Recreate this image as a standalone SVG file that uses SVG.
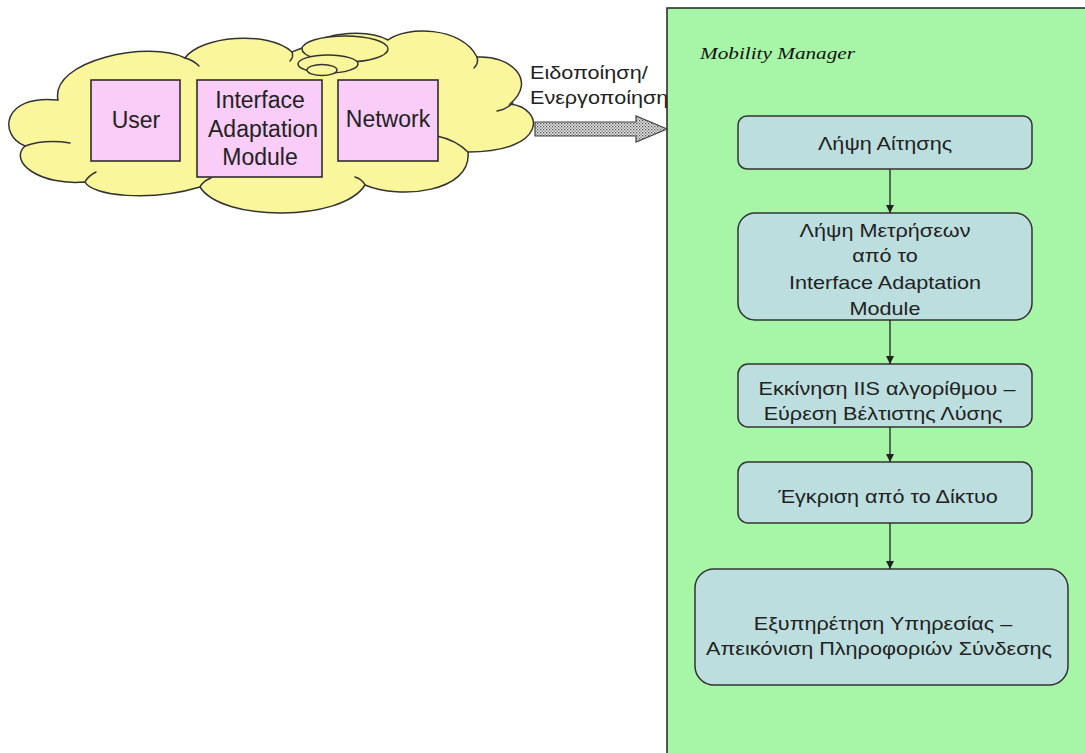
<svg xmlns="http://www.w3.org/2000/svg" width="1085" height="753" viewBox="0 0 1085 753">
  <defs>
    <style>
      .cloud { fill: #FAF69C; stroke: #333; stroke-width: 1.5; }
      .tick { fill: none; stroke: #333; stroke-width: 1.5; stroke-linecap: round; }
      .ent { fill: #F9CDF7; stroke: #222; stroke-width: 1.5; }
      .ent-text { font-family: "Liberation Sans", Arial, sans-serif; font-size: 23px; fill: #222; text-anchor: middle; }
      .panel { fill: #A7F5A7; stroke: #222; stroke-width: 1.5; }
      .step { fill: #BCDEDF; stroke: #333; stroke-width: 1.5; }
      .step-text { font-family: "Liberation Sans", Arial, sans-serif; font-size: 18px; fill: #222; text-anchor: middle; }
      .label { font-family: "Liberation Sans", Arial, sans-serif; font-size: 18px; fill: #222; }
      .title { font-family: "Liberation Serif", "Times New Roman", serif; font-style: italic; font-size: 17px; fill: #111; }
      .flow { stroke: #222; stroke-width: 1.3; fill: none; marker-end: url(#head); }
    </style>
    <marker id="head" viewBox="0 0 10 10" refX="10" refY="5" markerWidth="8" markerHeight="8" markerUnits="userSpaceOnUse" orient="auto">
      <path d="M0,0 L10,5 L0,10 Z" fill="#222"/>
    </marker>
    <pattern id="dots" width="3" height="3" patternUnits="userSpaceOnUse">
      <rect width="3" height="3" fill="#E4E4E4"/>
      <rect x="0" y="0" width="1.3" height="1.3" fill="#555"/>
      <rect x="1.5" y="1.5" width="1.3" height="1.3" fill="#777"/>
    </pattern>
  </defs>

  <rect width="1085" height="753" fill="#FFFFFF"/>

  <!-- Cloud holding the three entities -->
  <g id="cloud">
    <path class="cloud" d="M58,100 C50,60 150,40 185,58 C200,36 268,30 292,52 L302,48 C330,30 370,30 388,40 C405,26 462,26 477,57 C510,55 538,80 510,104 C545,108 548,152 468,152 C472,192 400,200 365,185 C342,222 222,222 200,187 C150,202 92,196 85,182 C40,186 8,162 25,146 C-2,135 2,94 58,100 Z"/>
    <path class="tick" d="M25,146 Q45,139 70,143"/>
    <path class="tick" d="M85,182 Q88,176 96,172"/>
    <path class="tick" d="M185,58 Q193,60 199,66"/>
    <path class="tick" d="M292,52 Q294,57 290,61"/>
    <path class="tick" d="M477,57 Q479,63 474,68"/>
    <path class="tick" d="M513,103 Q505,110 497,111"/>
    <path class="tick" d="M437,136 Q456,140 468,152"/>
    <path class="tick" d="M365,185 Q362,179 355,177"/>
    <path class="tick" d="M200,187 Q203,181 211,178"/>
    <ellipse class="cloud" cx="345" cy="49" rx="43" ry="13"/>
    <ellipse class="cloud" cx="328" cy="64" rx="30" ry="9"/>
    <ellipse class="cloud" cx="322" cy="70" rx="15" ry="5.5"/>
  </g>

  <g id="user">
    <rect class="ent" x="91" y="80" width="89" height="81"/>
    <text class="ent-text" x="136" y="128">User</text>
  </g>
  <g id="interface-adaptation-module">
    <rect class="ent" x="197" y="80" width="125" height="97"/>
    <text class="ent-text" x="260" y="108">Interface</text>
    <text class="ent-text" x="263" y="137">Adaptation</text>
    <text class="ent-text" x="260" y="165">Module</text>
  </g>
  <g id="network">
    <rect class="ent" x="338" y="80" width="100" height="81"/>
    <text class="ent-text" x="388" y="127">Network</text>
  </g>

  <!-- Mobility Manager panel -->
  <g id="mobility-manager">
    <rect class="panel" x="667" y="8" width="440" height="770"/>
    <text class="title" x="700" y="59" textLength="155" lengthAdjust="spacingAndGlyphs">Mobility Manager</text>
  </g>

  <!-- Notification / activation arrow into the panel -->
  <g id="notify">
    <path d="M535,122 H636 V116 L667,129 L636,142 V136 H535 Z" fill="url(#dots)" stroke="#444" stroke-width="1.2"/>
    <text class="label" transform="matrix(1.2 0 0 1 530 0)" x="0" y="79">Ειδοποίηση/</text>
    <text class="label" transform="matrix(1.2 0 0 1 530 0)" x="0" y="104">Ενεργοποίηση</text>
  </g>

  <g id="step-request">
    <rect class="step" x="738" y="116" width="294" height="53" rx="9"/>
    <text class="step-text" transform="matrix(1.2 0 0 1 885 0)" x="0" y="150">Λήψη Αίτησης</text>
  </g>
  <g id="step-measurements">
    <rect class="step" x="738" y="213" width="294" height="107" rx="17"/>
    <text class="step-text" transform="matrix(1.2 0 0 1 885 0)" x="0" y="237">Λήψη Μετρήσεων</text>
    <text class="step-text" transform="matrix(1.2 0 0 1 885 0)" x="0" y="262">από το</text>
    <text class="step-text" transform="matrix(1.2 0 0 1 885 0)" x="0" y="289">Interface Adaptation</text>
    <text class="step-text" transform="matrix(1.2 0 0 1 885 0)" x="0" y="315">Module</text>
  </g>
  <g id="step-algorithm">
    <rect class="step" x="738" y="364" width="294" height="63" rx="10"/>
    <text class="step-text" transform="matrix(1.2 0 0 1 887 0)" x="0" y="395">Εκκίνηση IIS αλγορίθμου –</text>
    <text class="step-text" transform="matrix(1.2 0 0 1 883 0)" x="0" y="420">Εύρεση Βέλτιστης Λύσης</text>
  </g>
  <g id="step-approval">
    <rect class="step" x="738" y="462" width="294" height="61" rx="10"/>
    <text class="step-text" transform="matrix(1.2 0 0 1 888 0)" x="0" y="503">Έγκριση από το Δίκτυο</text>
  </g>
  <g id="step-service">
    <rect class="step" x="695" y="569" width="373" height="116" rx="19"/>
    <text class="step-text" transform="matrix(1.2 0 0 1 883 0)" x="0" y="630">Εξυπηρέτηση Υπηρεσίας –</text>
    <text class="step-text" transform="matrix(1.2 0 0 1 879 0)" x="0" y="655">Απεικόνιση Πληροφοριών Σύνδεσης</text>
  </g>

  <g id="connectors">
    <line class="flow" x1="890" y1="169" x2="890" y2="213"/>
    <line class="flow" x1="890" y1="320" x2="890" y2="364"/>
    <line class="flow" x1="890" y1="427" x2="890" y2="462"/>
    <line class="flow" x1="890" y1="523" x2="890" y2="569"/>
  </g>
</svg>
